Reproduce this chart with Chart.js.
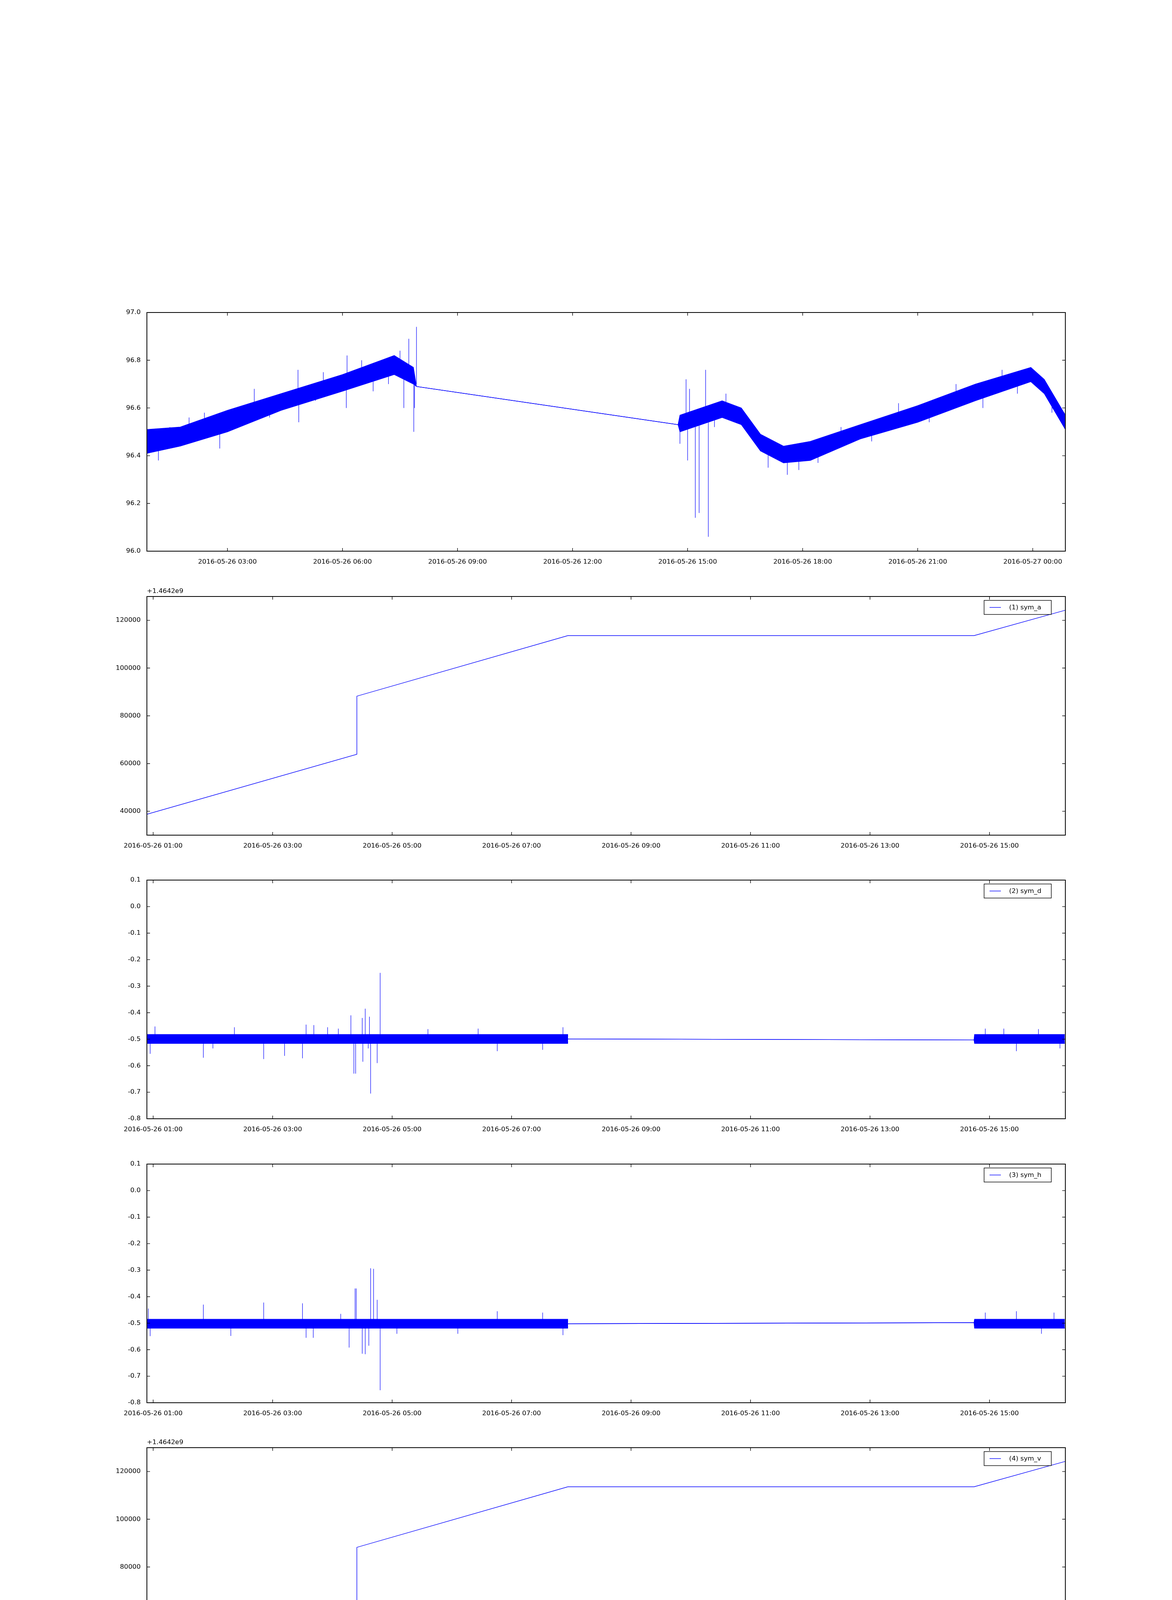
<!DOCTYPE html>
<html><head><meta charset="utf-8">
<script src="https://cdn.jsdelivr.net/npm/chart.js@4.4.0/dist/chart.umd.min.js"></script>
<style>
body{margin:0;background:#fff;width:3000px;height:8000px;position:relative;}
.pan{position:absolute;left:0;width:3000px;height:727px;}
</style></head><body>
<script>
// ---------- DATA ----------
// Panel 0: main signal (hours since 2016-05-26 00:00)
const p0Time  = [0.90,1.77,3.0,4.4,6.0,7.35,7.85,7.93, 14.75,14.8,15.9,16.4,16.9,17.5,18.2,19.5,21.0,22.5,23.95,24.3,24.85];
const p0Upper = [96.51,96.52,96.59,96.66,96.74,96.82,96.77,96.69, 96.53,96.57,96.63,96.60,96.49,96.44,96.46,96.53,96.61,96.70,96.77,96.72,96.57];
const p0Lower = [96.41,96.44,96.50,96.59,96.67,96.74,96.70,96.69, 96.53,96.50,96.56,96.53,96.42,96.37,96.38,96.47,96.54,96.63,96.71,96.66,96.51];
const p0Spikes = [[1.2,96.45,96.38],[1.5,96.46,96.52],[2.0,96.48,96.56],[2.4,96.50,96.58],[2.8,96.52,96.43],[3.3,96.58,96.53],[3.7,96.60,96.68],[4.1,96.62,96.56],[4.84,96.66,96.76],[4.86,96.64,96.54],[5.3,96.67,96.63],[5.5,96.68,96.75],[6.12,96.72,96.82],[6.1,96.70,96.60],[6.5,96.74,96.80],[6.8,96.74,96.67],[7.2,96.77,96.70],[7.5,96.78,96.84],[7.6,96.76,96.60],[7.73,96.75,96.89],[7.86,96.72,96.50],[7.93,96.70,96.94],[7.88,96.72,96.60],
 [14.8,96.53,96.45],[14.96,96.55,96.72],[15.05,96.55,96.68],[15.0,96.54,96.38],[15.2,96.55,96.14],[15.3,96.56,96.16],[15.47,96.58,96.76],[15.54,96.58,96.06],[15.7,96.60,96.52],[16.0,96.61,96.66],[16.6,96.55,96.50],[17.1,96.42,96.35],[17.6,96.40,96.32],[17.9,96.40,96.34],[18.4,96.44,96.37],[19.0,96.47,96.52],[19.8,96.52,96.46],[20.5,96.56,96.62],[21.3,96.60,96.54],[22.0,96.64,96.70],[22.7,96.68,96.60],[23.2,96.71,96.76],[23.6,96.73,96.66],[24.5,96.65,96.58]];
const p0Ticks = [3,6,9,12,15,18,21,24];
const p0TickLabels = ['2016-05-26 03:00','2016-05-26 06:00','2016-05-26 09:00','2016-05-26 12:00','2016-05-26 15:00','2016-05-26 18:00','2016-05-26 21:00','2016-05-27 00:00'];

// Shared time axis for panels 1-8
const tTicks = [1,3,5,7,9,11,13,15];
const tTickLabels = ['2016-05-26 01:00','2016-05-26 03:00','2016-05-26 05:00','2016-05-26 07:00','2016-05-26 09:00','2016-05-26 11:00','2016-05-26 13:00','2016-05-26 15:00'];

// Ramp series (sym_a, sym_v, ppd_a, ppd_y), offset +1.4642e9
const rampTime  = [0.895,4.41,4.41,7.94,14.74,16.27];
const rampValue = [38750,63900,88240,113600,113600,124260];

// sym_d
const symdTime  = [0.895,7.94,7.94,14.74,14.75,16.26];
const symdUpper = [-0.482,-0.482,-0.499,-0.503,-0.482,-0.482];
const symdLower = [-0.516,-0.516,-0.499,-0.503,-0.516,-0.516];
const symdSpikes = [[0.95,-0.50,-0.555],[1.03,-0.50,-0.452],[1.84,-0.50,-0.57],[2.36,-0.50,-0.455],[2.85,-0.50,-0.575],[3.2,-0.50,-0.563],[3.5,-0.50,-0.572],[3.56,-0.50,-0.445],[3.69,-0.50,-0.447],[3.92,-0.50,-0.455],[4.31,-0.50,-0.41],[4.36,-0.50,-0.63],[4.39,-0.50,-0.63],[4.5,-0.50,-0.42],[4.55,-0.50,-0.385],[4.51,-0.50,-0.585],[4.62,-0.50,-0.415],[4.64,-0.50,-0.705],[4.75,-0.50,-0.59],[4.8,-0.50,-0.25],[4.1,-0.50,-0.46],[4.6,-0.50,-0.535],[6.44,-0.50,-0.46],[6.76,-0.50,-0.545],[7.52,-0.50,-0.54],[7.86,-0.50,-0.455],[5.6,-0.50,-0.462],[2.0,-0.50,-0.535],
 [14.93,-0.50,-0.46],[15.24,-0.50,-0.46],[15.45,-0.50,-0.545],[15.82,-0.50,-0.462],[16.18,-0.50,-0.535],[16.27,-0.50,0.0]];

// sym_h
const symhTime  = [0.895,7.94,7.94,14.74,14.75,16.26];
const symhUpper = [-0.485,-0.485,-0.502,-0.498,-0.485,-0.485];
const symhLower = [-0.519,-0.519,-0.502,-0.498,-0.519,-0.519];
const symhSpikes = [[0.92,-0.50,-0.445],[0.95,-0.50,-0.549],[1.84,-0.50,-0.43],[2.85,-0.50,-0.422],[3.5,-0.50,-0.425],[3.56,-0.50,-0.555],[3.68,-0.50,-0.555],[4.28,-0.50,-0.592],[4.38,-0.50,-0.369],[4.4,-0.50,-0.369],[4.5,-0.50,-0.615],[4.55,-0.50,-0.617],[4.64,-0.50,-0.293],[4.69,-0.50,-0.295],[4.75,-0.50,-0.412],[4.61,-0.50,-0.585],[4.8,-0.50,-0.753],[4.14,-0.50,-0.465],[5.08,-0.50,-0.54],[6.76,-0.50,-0.455],[7.52,-0.50,-0.46],[7.86,-0.50,-0.545],[2.3,-0.50,-0.548],[6.1,-0.50,-0.54],
 [14.93,-0.50,-0.46],[15.45,-0.50,-0.455],[15.87,-0.50,-0.54],[16.08,-0.50,-0.46],[16.27,-0.50,0.0]];

// ppd_d, ppd_h
const flatTime  = [0.895,16.26,16.27];
const flatValue = [0,0,43000];

// ---------- RENDER ----------
const BLUE = '#0000ff';
const FONT = {family:'DejaVu Sans', size:16.7};
const PLOT_L = 376, PLOT_R = 2727, PLOT_H = 611, PITCH = 726.5, FIRST_TOP = 800, TOP_PAD = 60;

const framePlugin = {
  id:'frame',
  afterDatasetsDraw(chart, args, opts){
    const {ctx, chartArea:a, scales} = chart;
    ctx.save();
    ctx.strokeStyle = '#000'; ctx.lineWidth = 1.4;
    const L = 8;
    ctx.beginPath();
    scales.x.ticks.forEach(t=>{ const x = scales.x.getPixelForValue(t.value);
      ctx.moveTo(x,a.bottom); ctx.lineTo(x,a.bottom-L); ctx.moveTo(x,a.top); ctx.lineTo(x,a.top+L); });
    scales.y.ticks.forEach(t=>{ const y = scales.y.getPixelForValue(t.value);
      ctx.moveTo(a.left,y); ctx.lineTo(a.left+L,y); ctx.moveTo(a.right,y); ctx.lineTo(a.right-L,y); });
    ctx.stroke();
    ctx.lineWidth = 2;
    ctx.strokeRect(a.left, a.top, a.right-a.left, a.bottom-a.top);
    ctx.font = '16.7px "DejaVu Sans"'; ctx.fillStyle = '#000';
    if (opts.offset){ ctx.textBaseline='bottom'; ctx.textAlign='left'; ctx.fillText(opts.offset, a.left, a.top-5); }
    if (opts.legend){
      const w = 172, h = 36, x0 = a.right-36-w, y0 = a.top+10;
      ctx.fillStyle='#fff'; ctx.fillRect(x0,y0,w,h);
      ctx.lineWidth = 1.4; ctx.strokeStyle='#000'; ctx.strokeRect(x0,y0,w,h);
      ctx.strokeStyle = BLUE; ctx.beginPath(); ctx.moveTo(x0+14,y0+h/2); ctx.lineTo(x0+43,y0+h/2); ctx.stroke();
      ctx.fillStyle='#000'; ctx.textBaseline='middle'; ctx.fillText(opts.legend, x0+64, y0+h/2+1);
    }
    ctx.restore();
  }
};

function spikeData(list){
  const out=[]; list.forEach(s=>{ out.push({x:s[0],y:s[1]},{x:s[0],y:s[2]},{x:s[0],y:null}); }); return out;
}
function pts(t,v){ return t.map((x,i)=>({x, y:v[i]})); }

function makePanel(i, cfg){
  const div = document.createElement('div'); div.className='pan';
  div.style.top = (FIRST_TOP + i*PITCH - TOP_PAD) + 'px';
  const cv = document.createElement('canvas'); cv.width=3000; cv.height=727;
  div.appendChild(cv); document.body.appendChild(div);
  const ds = cfg.datasets.map(d=>Object.assign({borderColor:BLUE, backgroundColor:BLUE, borderWidth:1.4, pointRadius:0, tension:0, spanGaps:false, fill:false}, d));
  new Chart(cv, {
    type:'line',
    data:{datasets:ds},
    options:{
      responsive:false, animation:false, devicePixelRatio:1,
      layout:{autoPadding:false, padding:{left:PLOT_L-90, right:3000-PLOT_R, top:TOP_PAD, bottom:727-TOP_PAD-PLOT_H-50}},
      plugins:{legend:{display:false}, tooltip:{enabled:false}, frame:{offset:cfg.offset, legend:cfg.legend}},
      scales:{
        x:{type:'linear', min:cfg.xmin, max:cfg.xmax,
           afterBuildTicks(s){ s.ticks = cfg.xticks.map(v=>({value:v})); },
           afterFit(s){ s.height = 50; },
           grid:{display:false}, border:{display:false},
           ticks:{font:FONT, color:'#000', maxRotation:0, autoSkip:false, padding:10,
             callback:(v)=>{ const k = cfg.xticks.indexOf(v); return k>=0 ? cfg.xlabels[k] : ''; }}},
        y:{type:'linear', min:cfg.ymin, max:cfg.ymax,
           afterBuildTicks(s){ s.ticks = cfg.yticks.map(v=>({value:v})); },
           afterFit(s){ s.width = 90; },
           grid:{display:false}, border:{display:false},
           ticks:{font:FONT, color:'#000', padding:8, autoSkip:false,
             callback:(v)=>cfg.yfmt(v)}}
      }
    },
    plugins:[framePlugin]
  });
}

const f1 = v=>v.toFixed(1);
const f0 = v=>String(Math.round(v));
const rampTicks = [40000,60000,80000,100000,120000];

makePanel(0,{xmin:0.9,xmax:24.85,xticks:p0Ticks,xlabels:p0TickLabels,ymin:96.0,ymax:97.0,yticks:[96.0,96.2,96.4,96.6,96.8,97.0],yfmt:f1,
  datasets:[{data:pts(p0Time,p0Upper)},{data:pts(p0Time,p0Lower),fill:'-1'},{data:spikeData(p0Spikes),borderWidth:1.2}]});

const common = {xmin:0.895,xmax:16.27,xticks:tTicks,xlabels:tTickLabels};
function ramp(i,label){
  makePanel(i,Object.assign({},common,{ymin:30000,ymax:130000,yticks:rampTicks,yfmt:f0,offset:'+1.4642e9',legend:label,
    datasets:[{data:pts(rampTime,rampValue)}]}));
}
function flat(i,label){
  makePanel(i,Object.assign({},common,{ymin:-10000,ymax:50000,yticks:[-10000,0,10000,20000,30000,40000,50000],yfmt:f0,legend:label,
    datasets:[{data:pts(flatTime,flatValue)}]}));
}
ramp(1,'(1) sym_a');
makePanel(2,Object.assign({},common,{ymin:-0.8,ymax:0.1,yticks:[-0.8,-0.7,-0.6,-0.5,-0.4,-0.3,-0.2,-0.1,0.0,0.1],yfmt:f1,legend:'(2) sym_d',
  datasets:[{data:pts(symdTime,symdUpper)},{data:pts(symdTime,symdLower),fill:'-1'},{data:spikeData(symdSpikes),borderWidth:1.2}]}));
makePanel(3,Object.assign({},common,{ymin:-0.8,ymax:0.1,yticks:[-0.8,-0.7,-0.6,-0.5,-0.4,-0.3,-0.2,-0.1,0.0,0.1],yfmt:f1,legend:'(3) sym_h',
  datasets:[{data:pts(symhTime,symhUpper)},{data:pts(symhTime,symhLower),fill:'-1'},{data:spikeData(symhSpikes),borderWidth:1.2}]}));
ramp(4,'(4) sym_v');
ramp(5,'(5) ppd_a');
flat(6,'(6) ppd_d');
flat(7,'(7) ppd_h');
ramp(8,'(8) ppd_y');
</script>
</body></html>
